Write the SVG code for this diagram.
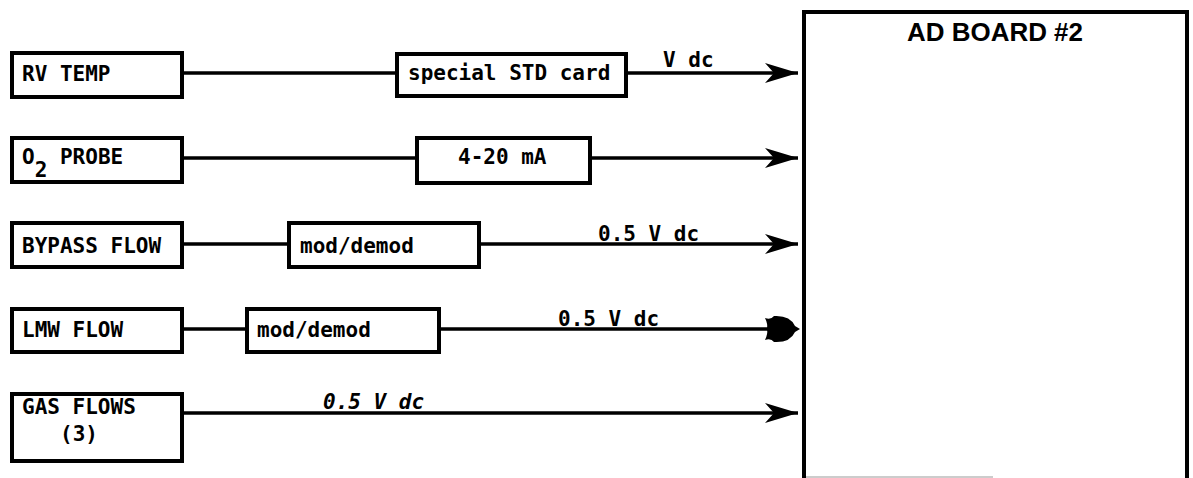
<svg xmlns="http://www.w3.org/2000/svg" width="1193" height="478" viewBox="0 0 1193 478">
<style>
.box{fill:#fff;stroke:#000;stroke-width:4}
.ln{fill:none;stroke:#000;stroke-width:3.5}
.t{font-family:"DejaVu Sans Mono","Liberation Mono",monospace;font-weight:bold;font-size:21px;fill:#000}
.it{font-style:italic}
.title{font-family:"Liberation Sans",Arial,sans-serif;font-weight:bold;font-size:25px;fill:#000}
</style>
<defs>
<marker id="arr" markerUnits="userSpaceOnUse" markerWidth="36" markerHeight="24" refX="34" refY="12" orient="auto">
<path d="M34,12 L1,2 L10,12 L1,22 Z" fill="#000"/>
</marker>
</defs>
<rect width="1193" height="478" fill="#fff"/>
<g id="ad-board">
<path d="M804,480 L804,12 L1187,12 L1187,480" fill="none" stroke="#000" stroke-width="4"/>
<line x1="806" y1="477" x2="993" y2="477" stroke="#bbb" stroke-width="1.5"/>
<text class="title" x="995" y="41" text-anchor="middle" textLength="176" lengthAdjust="spacingAndGlyphs">AD BOARD #2</text>
</g>
<g id="connectors">
<line class="ln" x1="182" y1="73" x2="397" y2="73"/>
<line class="ln" x1="626" y1="73" x2="798" y2="73" marker-end="url(#arr)"/>
<line class="ln" x1="182" y1="158" x2="417" y2="158"/>
<line class="ln" x1="590" y1="158" x2="798" y2="158" marker-end="url(#arr)"/>
<line class="ln" x1="182" y1="244" x2="289" y2="244"/>
<line class="ln" x1="479" y1="244" x2="798" y2="244" marker-end="url(#arr)"/>
<line class="ln" x1="182" y1="329" x2="247" y2="329"/>
<line class="ln" x1="439" y1="329" x2="770" y2="329"/>
<path d="M765,318 Q771,320 774,316 Q790,315 795,326 L800,329 L795,332 Q790,343 774,342 Q771,338 765,340 Q768,334 767,329 Q768,324 765,318 Z" fill="#000"/>
<line class="ln" x1="182" y1="413" x2="798" y2="413" marker-end="url(#arr)"/>
<text class="t" x="663" y="67">V dc</text>
<text class="t" x="598" y="241">0.5 V dc</text>
<text class="t" x="558" y="326">0.5 V dc</text>
<text class="t it" x="323" y="409">0.5 V dc</text>
</g>
<g id="rv-temp">
<rect class="box" x="12" y="53" width="170" height="44"/>
<text class="t" x="22" y="81">RV TEMP</text>
</g>
<g id="special-std-card">
<rect class="box" x="397" y="54" width="229" height="42"/>
<text class="t" x="408" y="80">special STD card</text>
</g>
<g id="o2-probe">
<rect class="box" x="12" y="138" width="170" height="44"/>
<text class="t" x="22" y="164">O<tspan dy="13">2</tspan><tspan dy="-13"> PROBE</tspan></text>
</g>
<g id="current-4-20">
<rect class="box" x="417" y="138" width="173" height="45"/>
<text class="t" x="458" y="164">4-20 mA</text>
</g>
<g id="bypass-flow">
<rect class="box" x="12" y="223" width="170" height="44"/>
<text class="t" x="22" y="253">BYPASS FLOW</text>
</g>
<g id="mod-demod-1">
<rect class="box" x="289" y="223" width="190" height="44"/>
<text class="t" x="300" y="253">mod/demod</text>
</g>
<g id="lmw-flow">
<rect class="box" x="12" y="309" width="170" height="43"/>
<text class="t" x="22" y="337">LMW FLOW</text>
</g>
<g id="mod-demod-2">
<rect class="box" x="247" y="309" width="192" height="43"/>
<text class="t" x="257" y="337">mod/demod</text>
</g>
<g id="gas-flows">
<rect class="box" x="12" y="394" width="170" height="67"/>
<text class="t" x="22" y="414">GAS FLOWS</text>
<text class="t" x="60" y="441">(3)</text>
</g>
</svg>
